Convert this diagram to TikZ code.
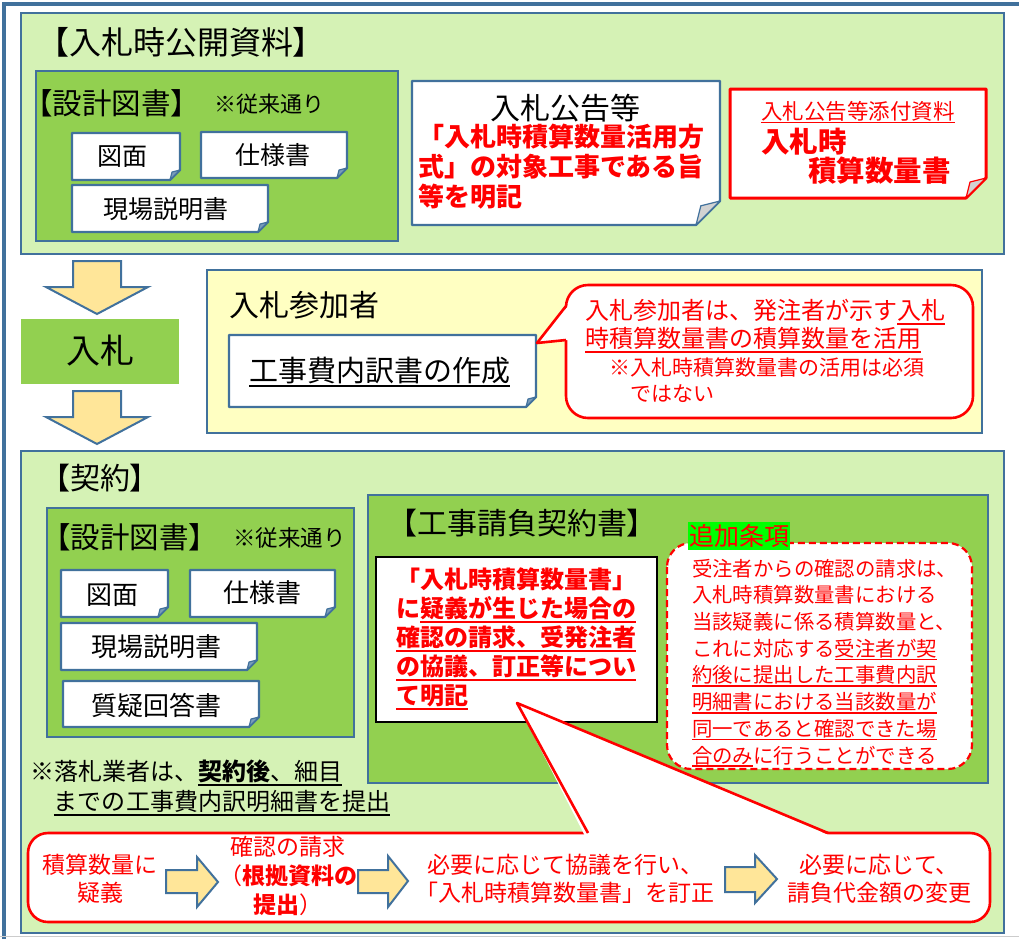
\documentclass[tikz,border=0pt]{standalone}
\usepackage{fontspec}
\setmainfont{Noto Sans CJK JP}
\newfontfamily\jpp{Noto Sans CJK JP}[RawFeature=+palt]
\definecolor{bl}{HTML}{41719C}
\definecolor{lg}{HTML}{D5F2B5}
\definecolor{mg}{HTML}{92D050}
\definecolor{ly}{HTML}{FFFFC2}
\definecolor{ay}{HTML}{FFE699}
\definecolor{hg}{HTML}{00FF00}
\newsavebox\ulbox
\newcommand\myul[2][red]{\sbox\ulbox{#2}\rlap{\color{#1}\rule[-0.2em]{\wd\ulbox}{1.8pt}}\usebox\ulbox}
\newcommand\thinul[2][red]{\sbox\ulbox{#2}\rlap{\color{#1}\rule[-0.18em]{\wd\ulbox}{1pt}}\usebox\ulbox}
% folded-corner document box: #1 border, #2 fold fill, #3 x1, #4 y1, #5 x2, #6 y2, #7 fold size, #8 line width
\newcommand\foldbox[8]{%
  \filldraw[draw=#1, fill=white, line width=#8, line join=round] (#3,#4) -- (#5,#4) -- (#5,{#6-#7}) -- ({#5-#7},#6) -- (#3,#6) -- cycle;
  \filldraw[draw=#1, fill=#2, line width=1.2pt, line join=round] ({#5-#7},#6) -- ({#5-0.8*#7},{#6-0.8*#7}) -- (#5,{#6-#7}) -- cycle;}
\tikzset{
  panel/.style={draw=bl, line width=2.2pt},
  txt/.style={inner sep=0pt, outer sep=0pt},
  barrow/.style={draw=bl, fill=ay, line width=2pt, line join=miter},
  redline/.style={draw=red, line width=2.6pt, line join=round},
}
\begin{document}
\begin{tikzpicture}[x=1pt,y=-1pt]
\useasboundingbox (0,0) rectangle (1019,938);
% outer frame
\draw[bl, line width=3.5pt] (4,940) -- (4,4) -- (1025,4) -- (1025,940);
\draw[gray!40, line width=1.5pt] (0,936.5) -- (1019,936.5);

% ===== top panel =====
\filldraw[panel, fill=lg] (21,13) rectangle (1004,254);
\node[txt, anchor=west, font={\jpp\fontsize{32}{38}\selectfont}] (t1) at (53,42) {【入札時公開資料】};
\filldraw[panel, fill=mg] (36,71) rectangle (398,241);
\node[txt, anchor=west, font={\jpp\fontsize{29.5}{34}\selectfont}] (sk1) at (38,103) {【設計図書】};
\node[txt, anchor=west, font={\fontsize{22}{26}\selectfont}] (jr1) at (214,104) {※従来通り};
\foldbox{bl}{bl!70}{72}{133}{180}{180}{10}{2.2pt}
\node[txt, font={\fontsize{25}{30}\selectfont}] (zm1) at (122,157) {図面};
\foldbox{bl}{bl!70}{201}{132}{347}{178}{10}{2.2pt}
\node[txt, font={\fontsize{25}{30}\selectfont}] (sy1) at (273,155) {仕様書};
\foldbox{bl}{bl!70}{72}{185}{268}{232}{10}{2.2pt}
\node[txt, font={\fontsize{25}{30}\selectfont}] (gb1) at (166,209) {現場説明書};
\foldbox{bl}{gray!35}{412}{81}{720}{225}{24}{2.2pt}
\node[txt, font={\fontsize{30}{36}\selectfont}] (nk) at (565,108) {入札公告等};
\node[txt, anchor=west, align=left, text=red, font={\bfseries\fontsize{26}{30}\selectfont}] (nkr) at (418,167)
  {「入札時積算数量活用方\\式」の対象工事である旨\\等を明記};
\foldbox{red}{gray!35}{730}{89}{986}{198}{20}{3pt}
\node[txt, anchor=west, text=red, font={\fontsize{21.5}{26}\selectfont}] (tp) at (761,112) {\thinul{入札公告等添付資料}};
\node[txt, anchor=west, text=red, font={\bfseries\fontsize{28.5}{32}\selectfont}] (ns1) at (761,142) {入札時};
\node[txt, anchor=west, text=red, font={\bfseries\fontsize{28.5}{32}\selectfont}] (ns2) at (808,171) {積算数量書};

% ===== middle =====
\filldraw[barrow] (73,261) -- (121,261) -- (121,287) -- (148,287) -- (97,314) -- (46,287) -- (73,287) -- cycle;
\fill[mg] (21,319) rectangle (179,384);
\node[txt, font={\fontsize{34}{40}\selectfont}] (ns) at (100,351) {入札};
\filldraw[barrow] (73,391) -- (121,391) -- (121,417) -- (148,417) -- (97,444) -- (46,417) -- (73,417) -- cycle;

\filldraw[panel, fill=ly] (207,270) rectangle (982,433);
\node[txt, anchor=west, font={\fontsize{30}{36}\selectfont}] (sk) at (229,305) {入札参加者};
\foldbox{bl}{bl!70}{229}{335}{536}{407}{10}{2.2pt}
\node[txt, anchor=west, font={\fontsize{29}{34}\selectfont}] (kh) at (249,372) {\myul[black]{工事費内訳書の作成}};
% callout
\filldraw[redline, fill=white, rounded corners=22pt] (566,285) rectangle (973,418);
\fill[white] (568,306) -- (537,343) -- (568,340) -- cycle;
\draw[redline] (566,306) -- (537,343) -- (566,340);
\node[txt, anchor=west, align=left, text=red, font={\fontsize{24}{28}\selectfont}] (cb1) at (585,326)
  {入札参加者は、発注者が示す\myul{入札}\\\myul{時積算数量書の積算数量を活用}};
\node[txt, anchor=west, align=left, text=red, font={\fontsize{21}{26}\selectfont}] (cb2) at (609,380)
  {※入札時積算数量書の活用は必須\\\hspace*{1em}ではない};

% ===== bottom panel =====
\filldraw[panel, fill=lg] (21,451) rectangle (1004,933);
\node[txt, anchor=west, font={\jpp\fontsize{30}{36}\selectfont}] (ky) at (55,478) {【契約】};
\filldraw[panel, fill=mg] (47,508) rectangle (354,737);
\node[txt, anchor=west, font={\jpp\fontsize{29.5}{34}\selectfont}] (sk2) at (56,537) {【設計図書】};
\node[txt, anchor=west, font={\fontsize{22.5}{26}\selectfont}] (jr2) at (233,538) {※従来通り};
\foldbox{bl}{bl!70}{61}{570}{168}{617}{10}{2.2pt}
\node[txt, font={\fontsize{26}{30}\selectfont}] (zm2) at (112,595) {図面};
\foldbox{bl}{bl!70}{190}{570}{335}{617}{10}{2.2pt}
\node[txt, font={\fontsize{26}{30}\selectfont}] (sy2) at (262,593) {仕様書};
\foldbox{bl}{bl!70}{61}{623}{257}{670}{10}{2.2pt}
\node[txt, font={\fontsize{26}{30}\selectfont}] (gb2) at (156,647) {現場説明書};
\foldbox{bl}{bl!70}{63}{681}{259}{727}{10}{2.2pt}
\node[txt, font={\fontsize{26}{30}\selectfont}] (sg2) at (156,705) {質疑回答書};
\node[txt, anchor=west, align=left, font={\fontsize{24}{30}\selectfont}] (rs) at (30,788)
  {※落札業者は、\myul[black]{\textbf{契約後}、細目}\\\hspace*{1em}\myul[black]{までの工事費内訳明細書を提出}};

\filldraw[panel, fill=mg] (368,495) rectangle (988,783);
\node[txt, anchor=west, font={\jpp\fontsize{30}{36}\selectfont}] (ku) at (402,523) {【工事請負契約書】};
\filldraw[draw=black, fill=white, line width=2.6pt] (376,557) rectangle (657,722);
\node[txt, anchor=west, align=left, text=red, font={\bfseries\fontsize{24}{29}\selectfont}] (kb) at (396,639)
  {「入札時積算数量書」\\に\myul{疑義が生じた場合の}\\\myul{確認の請求、受発注者}\\\myul{の協議、訂正等につい}\\\myul{て明記}};

% bottom callout
\filldraw[redline, fill=white, rounded corners=20pt] (28,833) rectangle (990,922);
\fill[white] (585,836) -- (517,703) -- (831,836) -- cycle;
\draw[redline] (588,833) -- (517,703) -- (828,833);

% dashed box
\filldraw[draw=red, fill=white, line width=2.2pt, dash pattern=on 7pt off 4pt, rounded corners=24pt] (667,543) rectangle (972,769);
\node[txt, fill=hg, inner xsep=1pt, inner ysep=2pt, text=red, font={\fontsize{25}{30}\selectfont}] (tk) at (739,536) {追加条項};
\node[txt, anchor=west, align=left, text=red, font={\fontsize{20.4}{26.7}\selectfont}] (tkb) at (692,663)
  {受注者からの確認の請求は、\\入札時積算数量書における\\当該疑義に係る積算数量と、\\これに対応する\myul{受注者が契}\\\myul{約後に提出した工事費内訳}\\\myul{明細書における当該数量が}\\\myul{同一であると確認できた場}\\\myul{合のみ}に行うことができる};

% flow in bottom callout
\node[txt, align=center, text=red, font={\fontsize{23}{28}\selectfont}] (fl1) at (100,879) {積算数量に\\疑義};
\filldraw[barrow] (166,870) -- (197,870) -- (197,857) -- (218,882) -- (197,907) -- (197,893) -- (166,893) -- cycle;
\node[txt, align=center, text=red, font={\fontsize{23}{29}\selectfont}] (fl2) at (288,876) {確認の請求\\（\textbf{根拠資料の}\\\textbf{提出}）};
\filldraw[barrow] (358,870) -- (388,870) -- (388,856) -- (408,881) -- (388,907) -- (388,893) -- (358,893) -- cycle;
\node[txt, align=center, text=red, font={\fontsize{23}{28}\selectfont}] (fl3) at (565,879) {必要に応じて協議を行い、\\「入札時積算数量書」を訂正};
\filldraw[barrow] (725,867) -- (755,867) -- (755,855) -- (777,879) -- (755,903) -- (755,892) -- (725,892) -- cycle;
\node[txt, align=center, text=red, font={\fontsize{23}{28}\selectfont}] (fl4) at (879,879) {必要に応じて、\\請負代金額の変更};
\end{tikzpicture}
\end{document}
